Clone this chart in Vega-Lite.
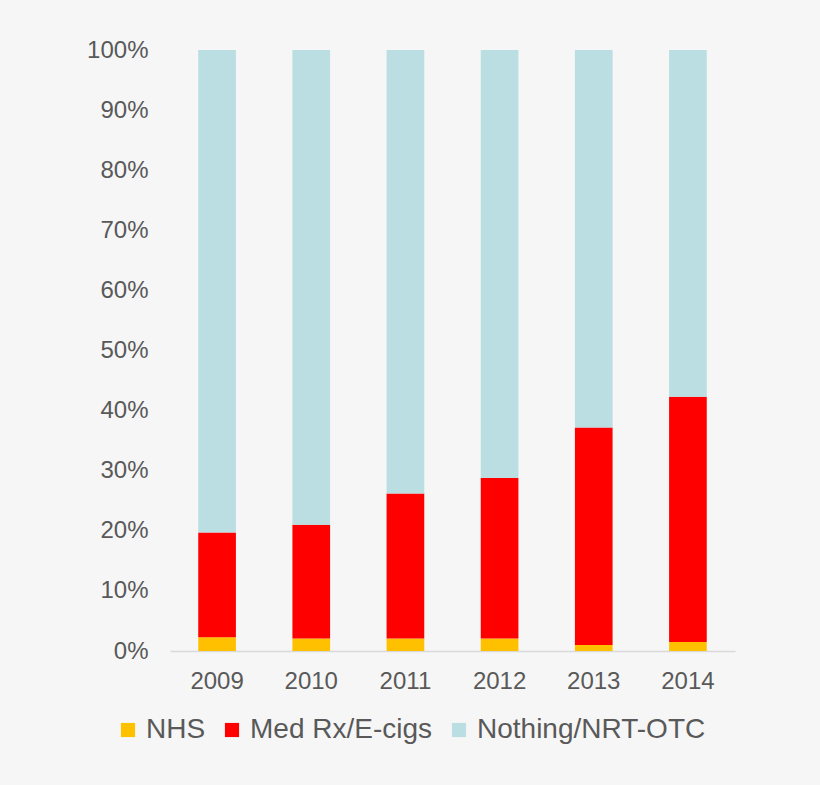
{
  "$schema": "https://vega.github.io/schema/vega-lite/v6.json",
  "width": 565,
  "height": 601,
  "autosize": "none",
  "padding": {"left": 170, "top": 50, "right": 85, "bottom": 134},
  "background": "#f6f6f6",
  "config": {
    "view": {"stroke": null},
    "font": "Liberation Sans"
  },
  "data": {
    "values": [
      {"year": "2009", "category": "NHS", "order": 1, "value": 0.023},
      {"year": "2009", "category": "Med Rx/E-cigs", "order": 2, "value": 0.174},
      {"year": "2009", "category": "Nothing/NRT-OTC", "order": 3, "value": 0.803},
      {"year": "2010", "category": "NHS", "order": 1, "value": 0.021},
      {"year": "2010", "category": "Med Rx/E-cigs", "order": 2, "value": 0.189},
      {"year": "2010", "category": "Nothing/NRT-OTC", "order": 3, "value": 0.79},
      {"year": "2011", "category": "NHS", "order": 1, "value": 0.021},
      {"year": "2011", "category": "Med Rx/E-cigs", "order": 2, "value": 0.241},
      {"year": "2011", "category": "Nothing/NRT-OTC", "order": 3, "value": 0.738},
      {"year": "2012", "category": "NHS", "order": 1, "value": 0.021},
      {"year": "2012", "category": "Med Rx/E-cigs", "order": 2, "value": 0.267},
      {"year": "2012", "category": "Nothing/NRT-OTC", "order": 3, "value": 0.712},
      {"year": "2013", "category": "NHS", "order": 1, "value": 0.01},
      {"year": "2013", "category": "Med Rx/E-cigs", "order": 2, "value": 0.362},
      {"year": "2013", "category": "Nothing/NRT-OTC", "order": 3, "value": 0.628},
      {"year": "2014", "category": "NHS", "order": 1, "value": 0.015},
      {"year": "2014", "category": "Med Rx/E-cigs", "order": 2, "value": 0.408},
      {"year": "2014", "category": "Nothing/NRT-OTC", "order": 3, "value": 0.577}
    ]
  },
  "mark": {"type": "bar"},
  "encoding": {
    "x": {
      "field": "year",
      "type": "ordinal",
      "scale": {"paddingInner": 0.6, "paddingOuter": 0.3},
      "axis": {
        "title": null,
        "labelAngle": 0,
        "labelFontSize": 24,
        "labelColor": "#595959",
        "labelPadding": 18,
        "ticks": false,
        "domainColor": "#d9d9d9",
        "domainWidth": 1.5
      }
    },
    "y": {
      "field": "value",
      "type": "quantitative",
      "stack": "zero",
      "scale": {"domain": [0, 1]},
      "axis": {
        "title": null,
        "format": ".0%",
        "values": [0, 0.1, 0.2, 0.3, 0.4, 0.5, 0.6, 0.7, 0.8, 0.9, 1],
        "labelOverlap": false,
        "labelFontSize": 24,
        "labelColor": "#595959",
        "labelPadding": 22,
        "ticks": false,
        "domain": false,
        "grid": false
      }
    },
    "color": {
      "field": "category",
      "type": "nominal",
      "scale": {
        "domain": ["NHS", "Med Rx/E-cigs", "Nothing/NRT-OTC"],
        "range": ["#ffc000", "#ff0000", "#badee2"]
      },
      "legend": {
        "title": null,
        "orient": "none",
        "direction": "horizontal",
        "legendX": -56,
        "legendY": 666,
        "symbolType": "square",
        "symbolSize": 200,
        "symbolStrokeWidth": 0,
        "labelFontSize": 28,
        "labelLimit": 0,
        "labelColor": "#595959",
        "labelOffset": 4,
        "columnPadding": 12
      }
    },
    "order": {"field": "order", "type": "quantitative"}
  }
}
